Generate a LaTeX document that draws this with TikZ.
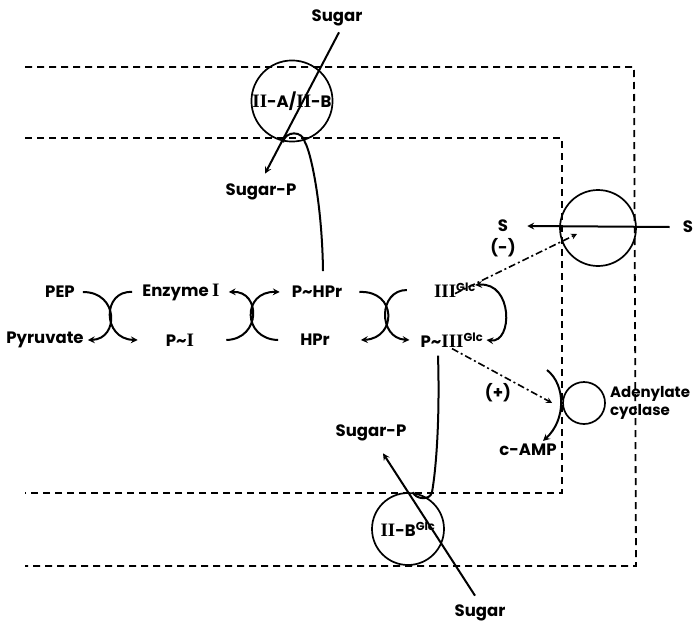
\documentclass[tikz,border=0pt]{standalone}
\usepackage{fontspec}
\setmainfont{Poppins}
\newfontfamily\romfont[Scale=1.15]{Liberation Serif}
\usepackage{tikz}
\usetikzlibrary{shapes,arrows,positioning}

\newcommand{\romnum}[1]{{\romfont\bfseries #1}}
\newcommand{\glc}{\textsuperscript{Glc}}

\begin{document}
\begin{tikzpicture}[
        x=1pt, y=-1pt,
        every node/.style={font=\bfseries\fontsize{16.5}{19}\selectfont, inner sep=1pt},
        membrane/.style={dash pattern=on 7pt off 5pt, line width=1.8pt},
        carrier/.style={draw, circle, line width=1.7pt, inner sep=0pt},
        swap/.style={line width=2pt},
        arrow/.style={->, >=stealth, line width=2pt},
        effect/.style={->, >=stealth, line width=1.6pt, dash pattern=on 7pt off 3pt on 2pt off 3pt},
    ]
        \useasboundingbox (0,0) rectangle (695,621);

        % Membranes (outer and inner)
        \draw [membrane] (25,67) -- (634,67) -- (636,566) -- (25,566);
        \draw [membrane] (25,138) -- (562,138) -- (562,493) -- (25,493);

        % Carriers in the membrane
        \node (iiab) [carrier, minimum size=76pt] at (292,101) {\romnum{II}-A/\romnum{II}-B};
        \node (iib) [carrier, minimum size=72pt] at (408,529) {\romnum{II}-B\glc};
        \node (perm) [carrier, minimum size=76pt] at (598,228) {};
        \node (cyc) [carrier, minimum size=42pt] at (584,403) {};

        % Main chain (top row / bottom row)
        \node (pep) at (60,292) {PEP};
        \node (pyr) at (45,340) {Pyruvate};
        \node (enz) at (181,292) {Enzyme \romnum{I}};
        \node (pi) at (180,340) {P\textasciitilde\romnum{I}};
        \node (phpr) at (317,292) {P\textasciitilde HPr};
        \node (hpr) at (315,340) {HPr};
        \node (iii) at (455,290) {\romnum{III}\glc};
        \node (piii) at (452,340) {P\textasciitilde\romnum{III}\glc};

        % Sugars, S and regulation labels
        \node (sugin) at (337,18) {Sugar};
        \node (sugp) at (261,192) {Sugar-P};
        \node (sugout) at (480,613) {Sugar};
        \node (sugq) at (371,433) {Sugar-P};
        \node (sl) at (503,226) {S};
        \node (sr) at (688,227) {S};
        \node (minus) at (503,248) {(-)};
        \node (plus) at (498,393) {(+)};
        \node (camp) at (528,450) {c-AMP};
        \node (adc) [right=3pt of cyc, align=left, font=\bfseries\fontsize{15}{18}\selectfont] {Adenylate\\cyclase};
        \coordinate (cycin) at (547,370);

        % --- Edges ---
        % PEP / Enzyme I
        \draw [arrow] ([xshift=7pt]pep.east) .. controls (119,292) and (119,339) .. ([xshift=3pt]pyr.east);
        \draw [arrow] ([xshift=-9pt]enz.west) .. controls (102,290) and (102,339) .. ([xshift=-27pt]pi.west);

        % Enzyme I / HPr
        \draw [arrow] ([xshift=31pt]pi.east) .. controls (261,339) and (261,291) .. ([xshift=8pt]enz.east);
        \draw [arrow] ([xshift=-21pt]hpr.west) .. controls (242,339) and (242,291) .. ([xshift=-11pt]phpr.west);

        % HPr / III
        \draw [arrow] ([xshift=16pt]phpr.east) .. controls (397,290) and (397,338) .. ([xshift=30pt]hpr.east);
        \draw [arrow] ([xshift=-26pt]iii.west) .. controls (378,290) and (378,338) .. ([xshift=-10pt]piii.west);

        % III loop
        \draw [arrow, <->] ([xshift=-2pt,yshift=5pt]iii.east) .. controls (513,282) and (513,343) .. ([xshift=2pt]piii.east);

        % P~HPr to II-A/II-B
        \draw [swap] ([xshift=6pt,yshift=14pt]phpr.north) .. controls (322,200) and (310,150) .. ([xshift=13pt]iiab.south)
            .. controls +(-2,-12) and +(2,-12) .. ([xshift=-9pt]iiab.south);

        % P~III to II-B
        \draw [swap] ([xshift=-14pt,yshift=-7pt]piii.south) .. controls (440,420) and (436,470) .. ([xshift=24pt]iib.north)
            .. controls +(-2,9) and +(2,7) .. ([xshift=5pt]iib.north);

        % Sugar transport
        \draw [arrow] ([xshift=2pt,yshift=-5pt]sugin.south) -- ([xshift=4pt,yshift=9pt]sugp.north);
        \draw [arrow] ([xshift=-5pt,yshift=8pt]sugout.north) -- ([xshift=12pt,yshift=-11pt]sugq.south);
        \draw [arrow] ([xshift=-12pt]sr.west) -- ([xshift=18pt]sl.east);

        % Regulation
        \draw [effect] ([xshift=0pt,yshift=5pt]iii.south) -- ([xshift=-21pt,yshift=-6pt]perm.center);
        \draw [effect] (piii.south) -- ([xshift=-10pt]cyc.west);
        \draw [arrow] (cycin) .. controls (566,385) and (566,420) .. ([xshift=15pt,yshift=2pt]camp.north);

    \end{tikzpicture}
\end{document}
